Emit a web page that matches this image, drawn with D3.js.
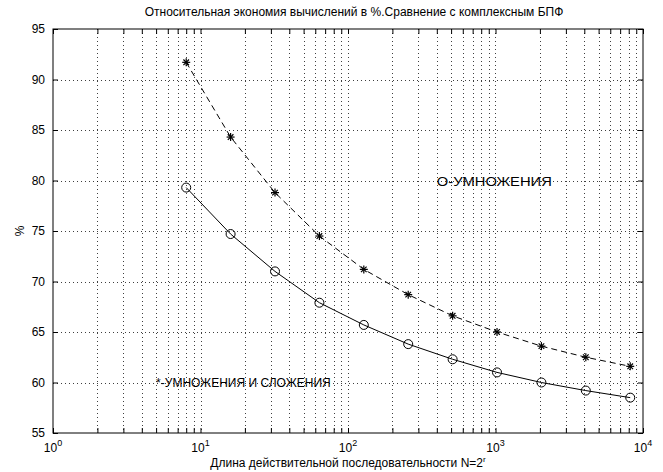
<!DOCTYPE html>
<html>
<head>
<meta charset="utf-8">
<script src="https://cdn.jsdelivr.net/npm/d3@7"></script>
<style>
  body { margin: 0; background: #fff; }
  svg { font-family: "Liberation Sans", Arial, sans-serif; }
</style>
</head>
<body>
<svg id="chart" width="663" height="472"></svg>
<script>
// N = 2^r, r = 3..13
var lengthsN = [8, 16, 32, 64, 128, 256, 512, 1024, 2048, 4096, 8192];
// multiplications and additions (dashed, *)
var mulAddSaving = [91.7, 84.3, 78.8, 74.5, 71.2, 68.7, 66.6, 65.0, 63.6, 62.5, 61.6];
// multiplications only (solid, o)
var mulSaving = [79.3, 74.7, 71.0, 67.9, 65.7, 63.8, 62.3, 61.0, 60.0, 59.2, 58.5];
var yTicks = [55, 60, 65, 70, 75, 80, 85, 90, 95];
var xDecades = [1, 10, 100, 1000, 10000];

var titleText = "Относительная экономия вычислений в %.Сравнение с комплексным БПФ";
var xLabelText = "Длина действительной последовательности N=2";
var yLabelText = "%";
var noteMul = "О-УМНОЖЕНИЯ";
var noteMulAdd = "*-УМНОЖЕНИЯ И СЛОЖЕНИЯ";

var margin = {top: 29, right: 20, bottom: 39, left: 53},
    width = 663 - margin.left - margin.right,
    height = 472 - margin.top - margin.bottom;

var svg = d3.select("#chart");
var g = svg.append("g").attr("transform", "translate(" + margin.left + "," + margin.top + ")");

var x = d3.scaleLog().domain([1, 10000]).range([0, width]);
var y = d3.scaleLinear().domain([55, 95]).range([height, 0]);

// minor positions 2..9 in each decade
var minorX = [];
xDecades.slice(0, -1).forEach(function(d) {
    for (var k = 2; k <= 9; k++) minorX.push(d * k);
});

// grid
g.append("g").selectAll("line.gx")
    .data(minorX.concat(xDecades.slice(1, -1)))
    .enter().append("line")
    .attr("x1", function(d) { return Math.round(x(d)) + 0.5; })
    .attr("x2", function(d) { return Math.round(x(d)) + 0.5; })
    .attr("y1", 0).attr("y2", height)
    .attr("stroke", "#000").attr("stroke-width", 1)
    .attr("stroke-dasharray", "1,3")
    .attr("opacity", 0.75);

g.append("g").selectAll("line.gy")
    .data(yTicks.slice(1, -1))
    .enter().append("line")
    .attr("x1", 0).attr("x2", width)
    .attr("y1", function(d) { return Math.round(y(d)) + 0.5; })
    .attr("y2", function(d) { return Math.round(y(d)) + 0.5; })
    .attr("stroke", "#000").attr("stroke-width", 1)
    .attr("stroke-dasharray", "1,3")
    .attr("opacity", 0.75);

// axes (ticks inside, like MATLAB)
var yAxis = d3.axisLeft(y).tickValues(yTicks).tickSizeInner(-5).tickSizeOuter(0).tickPadding(8);
var yAxisR = d3.axisRight(y).tickValues(yTicks).tickSizeInner(-5).tickSizeOuter(0).tickFormat("");
var xAxis = d3.axisBottom(x).tickValues(minorX.concat(xDecades)).tickSizeInner(-5).tickSizeOuter(0).tickFormat("");
var xAxisT = d3.axisTop(x).tickValues(minorX.concat(xDecades)).tickSizeInner(-5).tickSizeOuter(0).tickFormat("");

var gy = g.append("g").call(yAxis);
g.append("g").attr("transform", "translate(" + width + ",0)").call(yAxisR);
g.append("g").attr("transform", "translate(0," + height + ")").call(xAxis);
g.append("g").call(xAxisT);

gy.selectAll("text").style("font-size", "12px").attr("fill", "#000");
g.selectAll(".domain").remove();
g.selectAll(".tick line").attr("stroke", "#000");

// box
g.append("rect").attr("x", 0).attr("y", 0).attr("width", width).attr("height", height)
    .attr("fill", "none").attr("stroke", "#000").attr("stroke-width", 1);

// x tick labels 10^k
var xl = g.append("g").selectAll("text.xl")
    .data(xDecades)
    .enter().append("text")
    .attr("x", function(d) { return x(d); })
    .attr("y", height + 19)
    .attr("text-anchor", "middle")
    .style("font-size", "12px");
xl.append("tspan").text("10");
xl.append("tspan").attr("dy", -6).style("font-size", "9px")
    .text(function(d) { return Math.round(Math.log10(d)); });

// lines
var line = d3.line()
    .x(function(d, i) { return x(lengthsN[i]); })
    .y(function(d) { return y(d); });

g.append("path").datum(mulAddSaving)
    .attr("d", line).attr("fill", "none")
    .attr("stroke", "#000").attr("stroke-width", 1)
    .attr("stroke-dasharray", "6,4");

g.append("path").datum(mulSaving)
    .attr("d", line).attr("fill", "none")
    .attr("stroke", "#000").attr("stroke-width", 1);

// asterisk markers
var stars = g.append("g").selectAll("g.star")
    .data(mulAddSaving)
    .enter().append("g")
    .attr("transform", function(d, i) { return "translate(" + x(lengthsN[i]) + "," + y(d) + ")"; });
var s = 4;
[[-s, 0, s, 0], [0, -s, 0, s], [-s * 0.7, -s * 0.7, s * 0.7, s * 0.7], [-s * 0.7, s * 0.7, s * 0.7, -s * 0.7]]
    .forEach(function(c) {
        stars.append("line")
            .attr("x1", c[0]).attr("y1", c[1]).attr("x2", c[2]).attr("y2", c[3])
            .attr("stroke", "#000").attr("stroke-width", 1.2);
    });

// circle markers
g.append("g").selectAll("circle")
    .data(mulSaving)
    .enter().append("circle")
    .attr("cx", function(d, i) { return x(lengthsN[i]); })
    .attr("cy", function(d) { return y(d); })
    .attr("r", 4.5)
    .attr("fill", "none").attr("stroke", "#000").attr("stroke-width", 1);

// annotations
g.append("text").attr("x", x(400)).attr("y", y(79.5))
    .attr("text-anchor", "start").style("font-size", "12px")
    .attr("textLength", 115).attr("lengthAdjust", "spacingAndGlyphs")
    .text(noteMul);
g.append("text").attr("x", x(5.0)).attr("y", y(59.6))
    .attr("text-anchor", "start").style("font-size", "12px").text(noteMulAdd);

// title and axis labels
svg.append("text").attr("x", margin.left + width / 2 + 6).attr("y", 16)
    .attr("text-anchor", "middle").style("font-size", "12px").text(titleText);

var xt = svg.append("text").attr("x", margin.left + width / 2).attr("y", 467)
    .attr("text-anchor", "middle").style("font-size", "12px");
xt.append("tspan").text(xLabelText);
xt.append("tspan").attr("dy", -5).style("font-size", "8px").text("r");

svg.append("text")
    .attr("transform", "translate(24," + (margin.top + y(75)) + ") rotate(-90)")
    .attr("text-anchor", "middle").style("font-size", "12px").text(yLabelText);
</script>
</body>
</html>
